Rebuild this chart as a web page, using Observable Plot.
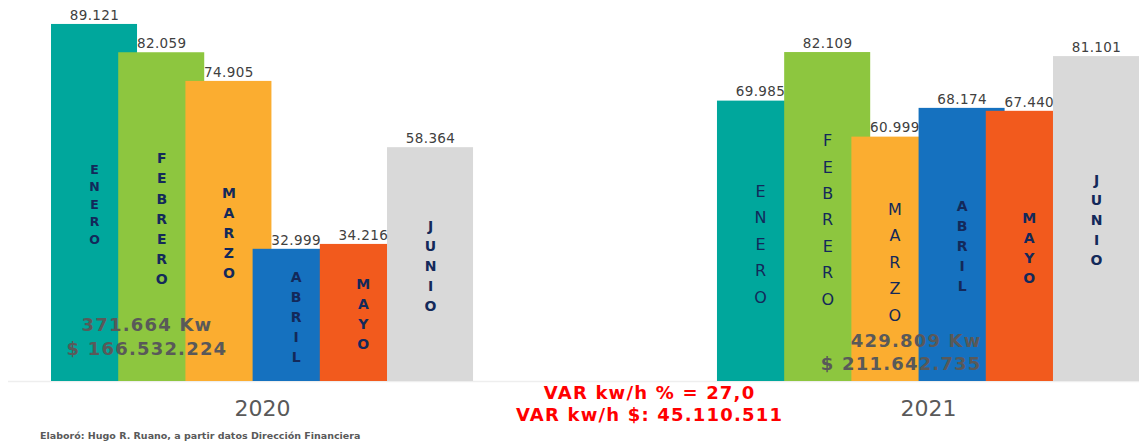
<!DOCTYPE html>
<html><head><meta charset="utf-8">
<script src="https://cdn.jsdelivr.net/npm/d3@7"></script>
<script src="https://cdn.jsdelivr.net/npm/@observablehq/plot@0.6"></script>
<style>
body{margin:0;background:#fff;}
#chart svg{display:block;}
.caption{font:bold 9.5px "DejaVu Sans",sans-serif;color:#595959;padding-left:40px;height:20px;line-height:22px;}
</style></head><body>
<div id="chart"></div>
<div class="caption" id="caption"></div>
<script>
// ---- data ----
const months = ["ENERO", "FEBRERO", "MARZO", "ABRIL", "MAYO", "JUNIO"];
const years = ["2020", "2021"];
const kw2020 = [89121, 82059, 74905, 32999, 34216, 58364];
const kw2021 = [69985, 82109, 60999, 68174, 67440, 81101];
const totalKw = [371664, 429809];
const totalPesos = [166532224, 211642735];
const varPct = "27,0";
const varPesos = 45110511;
const captionText = "Elaboró: Hugo R. Ruano, a partir datos Dirección Financiera";

// ---- layout constants ----
const groupGap = 9.91;   // slot offset of second year group
const barW = 1.28;       // bars overlap their neighbours
const loc = d3.formatLocale({decimal: ",", thousands: ".", grouping: [3], currency: ["$ ", ""]});
const fmt = loc.format(",d");

const series = [kw2020, kw2021];
const rows = [];
years.forEach((yr, j) => months.forEach((m, i) => {
  const x1 = i + j * groupGap;
  rows.push({year: yr, yi: j, month: m, mi: i, value: series[j][i], x1, x2: x1 + barW, xc: x1 + barW / 2,
    letters: m.split("").join("\n")});
}));
const groupCenter = j => j * groupGap + (months.length - 1 + barW) / 2;

const navy = "#13295a";
const isRegular = d => d.yi === 1 && d.mi < 3;
const isSmall = d => d.yi === 0 && d.mi === 0;

const plot = Plot.plot({
  width: 1139,
  height: 425,
  marginTop: 0,
  marginBottom: 44,
  marginLeft: 8,
  marginRight: 0,
  style: {fontFamily: "DejaVu Sans, sans-serif", background: "#fff"},
  x: {domain: [-0.64, groupGap + months.length - 1 + barW], axis: null},
  y: {domain: [0, 95100], axis: null},
  color: {domain: months, range: ["#00a79c", "#8dc63f", "#fbad30", "#1571bf", "#f25a1d", "#d9d9d9"]},
  marks: [
    Plot.ruleY([0], {stroke: "#eeeeee", strokeWidth: 1.5}),
    Plot.rectY(rows, {x1: "x1", x2: "x2", y: "value", fill: "month"}),
    Plot.text(rows, {x: "xc", y: "value", text: d => fmt(d.value), dy: -9,
      fontSize: 13.5, fill: "#404040", lineAnchor: "middle"}),
    Plot.text(rows.filter(d => !isRegular(d) && !isSmall(d)), {x: "xc", y: d => d.value / 2, text: "letters",
      fontSize: 14, fontWeight: "bold", lineHeight: 1.43, fill: navy, lineAnchor: "middle"}),
    Plot.text(rows.filter(isSmall), {x: "xc", y: d => d.value / 2, text: "letters",
      fontSize: 12.5, fontWeight: "bold", lineHeight: 1.4, fill: navy, lineAnchor: "middle"}),
    Plot.text(rows.filter(isRegular), {x: "xc", y: d => d.value / 2, text: "letters",
      fontSize: 16, fontWeight: "normal", lineHeight: 1.65, fill: navy, lineAnchor: "middle"}),
    Plot.text(years, {x: (d, j) => groupCenter(j), y: 0, text: d => d, dy: 27, fontSize: 22,
      fill: "#595959", lineAnchor: "middle"}),
    Plot.text([0], {x: 1.42, y: 11480, text: () => `${fmt(totalKw[0])} Kw\n$ ${fmt(totalPesos[0])}`,
      fontSize: 18, fontWeight: "bold", fill: "#595959", lineHeight: 1.35, lineAnchor: "middle", textAnchor: "middle"}),
    Plot.text([1], {x: 13.84, y: 7490, text: () => `${fmt(totalKw[1])} Kw\n$ ${fmt(totalPesos[1])}`,
      fontSize: 18, fontWeight: "bold", fill: "#595959", lineHeight: 1.25, lineAnchor: "middle", textAnchor: "end"}),
    Plot.text([0], {x: 8.9, y: 0, dy: 21,
      text: () => `VAR kw/h % = ${varPct}\nVAR kw/h $: ${fmt(varPesos)}`,
      fontSize: 18, fontWeight: "bold", fill: "#ff0000", lineHeight: 1.22, lineAnchor: "middle", textAnchor: "middle"})
  ]
});
// widen the stretched-looking annotation texts
d3.select(plot).selectAll("text")
  .filter(function() { return /Kw|VAR/.test(this.textContent); })
  .style("letter-spacing", "1.2px");
d3.select(plot).selectAll("text")
  .filter(function() { return /^\d+\.\d{3}$/.test(this.textContent); })
  .style("letter-spacing", "0.4px");
document.getElementById("chart").appendChild(plot);
document.getElementById("caption").textContent = captionText;
</script>
</body></html>
